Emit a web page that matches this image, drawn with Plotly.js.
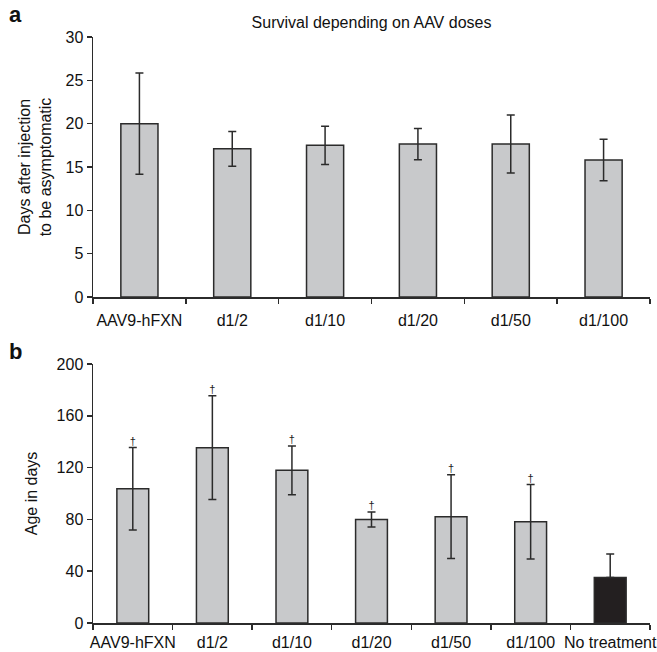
<!DOCTYPE html>
<html>
<head>
<meta charset="utf-8">
<script src="https://cdn.plot.ly/plotly-3.0.1.min.js"></script>
<style>html,body{margin:0;padding:0;background:#fff;}#chart{width:657px;height:652px;}</style>
</head>
<body>
<div id="chart"></div>
<script>
// Panel a: days after injection to be asymptomatic
const catsA = ["AAV9-hFXN", "d1/2", "d1/10", "d1/20", "d1/50", "d1/100"];
const valsA = [20.0, 17.1, 17.5, 17.65, 17.65, 15.8];
const errA  = [5.85, 2.0, 2.2, 1.8, 3.35, 2.4];

// Panel b: age in days
const catsB = ["AAV9-hFXN", "d1/2", "d1/10", "d1/20", "d1/50", "d1/100", "No treatment"];
const valsB = [103.7, 135.4, 117.9, 80.0, 82.1, 78.2, 35.2];
const errB  = [31.8, 40.0, 18.8, 5.8, 32.3, 28.7, 18.0];
const errBminus = [31.8, 40.0, 18.8, 5.8, 32.3, 28.7, 0];
const markB = ["†", "†", "†", "†", "†", "†", ""];

const tickA = [0, 5, 10, 15, 20, 25, 30];
const tickB = [0, 40, 80, 120, 160, 200];

const GREY = "#c8c9cb", BLACK = "#231f20", LINE = "#2b2b2b";
const FONT = "Liberation Sans, Arial, sans-serif";

const colorsB = catsB.map((c, i) => i === catsB.length - 1 ? BLACK : GREY);

const traces = [
  {
    type: "bar", x: catsA, y: valsA, xaxis: "x", yaxis: "y",
    marker: {color: GREY, line: {color: LINE, width: 1.5}},
    error_y: {type: "data", array: errA, visible: true, color: LINE, thickness: 1.5, width: 4},
    hoverinfo: "none", showlegend: false
  },
  {
    type: "bar", x: catsB, y: valsB, xaxis: "x2", yaxis: "y2",
    marker: {color: colorsB, line: {color: LINE, width: 1.5}},
    error_y: {type: "data", symmetric: false, array: errB, arrayminus: errBminus, visible: true,
              color: LINE, thickness: 1.5, width: 4},
    hoverinfo: "none", showlegend: false
  },
  {
    type: "scatter", mode: "text", x: catsB, y: valsB.map((v, i) => v + errB[i]),
    text: markB, textposition: "top center", xaxis: "x2", yaxis: "y2",
    textfont: {family: FONT, size: 11, color: "#222"},
    hoverinfo: "none", showlegend: false, cliponaxis: false
  }
];

const xCommon = {
  type: "category", showline: true, linecolor: LINE, linewidth: 1.5,
  ticks: "outside", tickson: "boundaries", ticklen: 5, tickwidth: 1.5, tickcolor: LINE,
  showgrid: false, zeroline: false, fixedrange: true, tickangle: 0,
  tickfont: {family: FONT, size: 16, color: "#111"}
};
const yCommon = {
  showline: true, linecolor: LINE, linewidth: 1.5,
  ticks: "outside", ticklen: 5, tickwidth: 1.5, tickcolor: LINE,
  showgrid: false, zeroline: false, fixedrange: true,
  tickfont: {family: FONT, size: 16, color: "#111"}
};

const layout = {
  width: 657, height: 652,
  margin: {l: 93, r: 7, t: 37, b: 29},
  paper_bgcolor: "#fff", plot_bgcolor: "#fff",
  bargap: 0.6,
  font: {family: FONT, color: "#111"},
  title: {text: "Survival depending on AAV doses", font: {family: FONT, size: 16, color: "#111"},
          x: 0.5, xref: "paper", y: 1 - 22/652, yanchor: "middle"},
  xaxis: Object.assign({}, xCommon, {anchor: "y", domain: [0, 1], range: [-0.5, 5.5], ticklabelstandoff: 8}),
  yaxis: Object.assign({}, yCommon, {anchor: "x", domain: [0.5563, 1], range: [0, 30], tickvals: tickA,
    title: {text: "Days after injection<br>to be asymptomatic", font: {family: FONT, size: 16, color: "#111"}, standoff: 10}}),
  xaxis2: Object.assign({}, xCommon, {anchor: "y2", domain: [0, 1], range: [-0.5, 6.5], ticklabelstandoff: 4}),
  yaxis2: Object.assign({}, yCommon, {anchor: "x2", domain: [0, 0.442], range: [0, 200], tickvals: tickB,
    title: {text: "Age in days", font: {family: FONT, size: 16, color: "#111"}, standoff: 15}}),
  annotations: [
    {text: "<b>a</b>", xref: "paper", yref: "paper", x: -0.14, y: 1.039, showarrow: false,
     font: {family: FONT, size: 22, color: "#111"}, xanchor: "center", yanchor: "middle"},
    {text: "<b>b</b>", xref: "paper", yref: "paper", x: -0.14, y: 0.4625, showarrow: false,
     font: {family: FONT, size: 22, color: "#111"}, xanchor: "center", yanchor: "middle"}
  ]
};

Plotly.newPlot("chart", traces, layout, {displayModeBar: false, staticPlot: true});
</script>
</body>
</html>
